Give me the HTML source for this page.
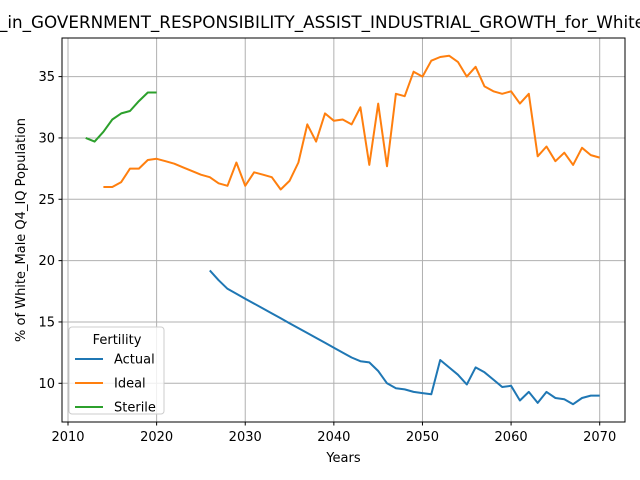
<!DOCTYPE html>
<html><head><meta charset="utf-8"><style>
body{margin:0;background:#fff}
svg{display:block;font-family:"DejaVu Sans","Liberation Sans",sans-serif}
</style></head><body>
<svg id="c" width="640" height="480" viewBox="0 0 640 480">
<text x="-1" y="28" font-size="16.5" textLength="646" lengthAdjust="spacingAndGlyphs">_in_GOVERNMENT_RESPONSIBILITY_ASSIST_INDUSTRIAL_GROWTH_for_White</text>
<g id="grid"></g><g id="series"></g>
<rect x="62" y="38" width="563" height="384" fill="none" stroke="#000" stroke-width="1"/>
<g id="ticks" font-size="13"></g>
<text x="343.5" y="462" text-anchor="middle" font-size="13">Years</text>
<text transform="translate(25,230) rotate(-90)" text-anchor="middle" font-size="13">% of White_Male Q4_IQ Population</text>
<g id="legend">
<rect x="69" y="327" width="95" height="87" rx="3" fill="#fff" fill-opacity="0.8" stroke="#ccc"/>
<text x="117" y="344" text-anchor="middle" font-size="13">Fertility</text>
</g>
</svg>
<script>
const xTicks=[2010,2020,2030,2040,2050,2060,2070];
const yTicks=[10,15,20,25,30,35];
const seriesNames=["Actual","Ideal","Sterile"];
const colors=["#1f77b4","#ff7f0e","#2ca02c"];
const actualStart=2026;
const actualVals=[19.2,18.4,17.7,17.3,16.9,16.5,16.1,15.7,15.3,14.9,14.5,14.1,13.7,13.3,12.9,12.5,12.1,11.8,11.7,11.0,10.0,9.6,9.5,9.3,9.2,9.1,11.9,11.3,10.7,9.9,11.3,10.9,10.3,9.7,9.8,8.6,9.3,8.4,9.3,8.8,8.7,8.3,8.8,9.0,9.0];
const idealStart=2014;
const idealVals=[26.0,26.0,26.4,27.5,27.5,28.2,28.3,28.1,27.9,27.6,27.3,27.0,26.8,26.3,26.1,28.0,26.1,27.2,27.0,26.8,25.8,26.5,28.0,31.1,29.7,32.0,31.4,31.5,31.1,32.5,27.8,32.8,27.7,33.6,33.4,35.4,35.0,36.3,36.6,36.7,36.2,35.0,35.8,34.2,33.8,33.6,33.8,32.8,33.6,28.5,29.3,28.1,28.8,27.8,29.2,28.6,28.4];
const sterileStart=2012;
const sterileVals=[30.0,29.7,30.5,31.5,32.0,32.2,33.0,33.7,33.7];
const NS="http://www.w3.org/2000/svg";
function X(v){return 68+(v-2010)*(599.7-68)/60;}
function Y(v){return 383.3-(v-10)*(383.3-76.6)/25;}
function mk(t,a,p){const e=document.createElementNS(NS,t);for(const k in a)e.setAttribute(k,a[k]);p.appendChild(e);return e;}
const grid=document.getElementById('grid'),ticks=document.getElementById('ticks');
xTicks.forEach(t=>{
 const l=mk('line',{x1:X(t),x2:X(t),y1:38,y2:422,stroke:'#b0b0b0','stroke-width':1},grid);
 
 
 mk('line',{x1:X(t),x2:X(t),y1:422,y2:425.5,stroke:'#000'},ticks);
 const tx=mk('text',{x:X(t),y:441,'text-anchor':'middle'},ticks);tx.textContent=t;
 
 
});
yTicks.forEach(t=>{
 const l=mk('line',{x1:62,x2:625,y1:Y(t),y2:Y(t),stroke:'#b0b0b0','stroke-width':1},grid);
 
 
 mk('line',{x1:58.5,x2:62,y1:Y(t),y2:Y(t),stroke:'#000'},ticks);
 const tx=mk('text',{x:55,y:Y(t)+4.5,'text-anchor':'end'},ticks);tx.textContent=t;
 
 
});
const ser=document.getElementById('series');
[[actualStart,actualVals],[idealStart,idealVals],[sterileStart,sterileVals]].forEach((s,i)=>{
 const pts=s[1].map((v,j)=>X(s[0]+j).toFixed(1)+','+Y(v).toFixed(1)).join(' ');
 const pl=mk('polyline',{points:pts,fill:'none',stroke:colors[i],'stroke-width':2,'stroke-linejoin':'round'},ser);
 
 
});
const lg=document.getElementById('legend');
seriesNames.forEach((n,i)=>{
 const y=359+i*24;
 const l=mk('line',{x1:75,x2:103,y1:y,y2:y,stroke:colors[i],'stroke-width':2},lg);
 
 
 const t=mk('text',{x:114,y:y+4.5,'font-size':13},lg);t.textContent=n;
 
 
});
</script>
</body></html>
